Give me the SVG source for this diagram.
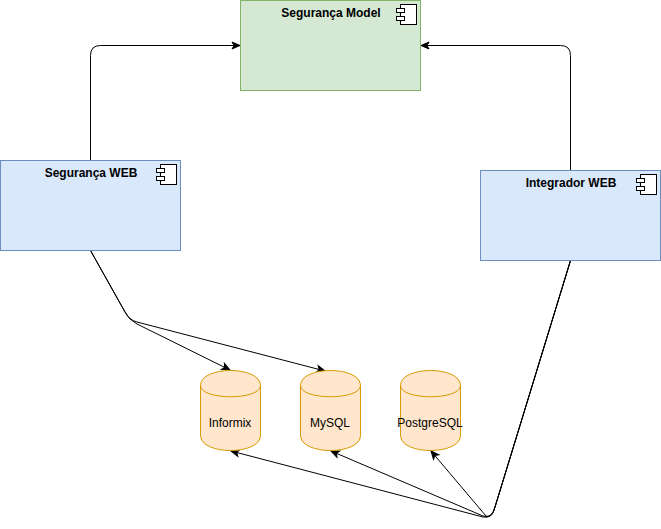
<svg xmlns="http://www.w3.org/2000/svg" width="661" height="529" viewBox="0 0 661 529">
<style>
text{font-family:"Liberation Sans",Arial,sans-serif;font-size:12px;fill:#000}
.t{font-weight:bold;text-anchor:middle}
.c{text-anchor:middle}
.blue{fill:#dae8fc;stroke:#6c8ebf}
.green{fill:#d5e8d4;stroke:#82b366}
.cyl{fill:#ffe6cc;stroke:#d79b00}
.ico{fill:#fff;stroke:#000}
.e{fill:none;stroke:#000;stroke-width:1}
</style>
<defs>
<marker id="a" markerUnits="userSpaceOnUse" markerWidth="12" markerHeight="10" refX="9" refY="4" orient="auto" overflow="visible"><path d="M1 0.500L9 4L1 7.500L3 4Z" fill="#000" stroke="#000"/></marker>
<g id="icon"><rect class="ico" x="4" y="0" width="16" height="20"/><rect class="ico" x="0" y="4" width="8" height="4"/><rect class="ico" x="0" y="12" width="8" height="4"/></g>
</defs>
<g id="edges">
<path class="e" marker-end="url(#a)" d="M90.500 160.500V55.500Q90.500 45.500 100.500 45.500H240"/>
<path class="e" marker-end="url(#a)" d="M570.500 170.500V55.500Q570.500 45.500 560.500 45.500H421"/>
<path class="e" marker-end="url(#a)" d="M90.500 250.500L125 312Q129 320 137 324L230 370"/>
<path class="e" marker-end="url(#a)" d="M90.500 250.500L125 312Q129 320 137 322L325 371"/>
<path class="e" marker-end="url(#a)" d="M570.500 260.500L495 507Q492 519 483 517L231 451"/>
<path class="e" marker-end="url(#a)" d="M570.500 260.500L495 507Q492 519 483 516L331 451"/>
<path class="e" marker-end="url(#a)" d="M570.500 260.500L495 507Q492 519 486 516L431 451"/>
</g>
<g id="seguranca-model"><rect class="green" x="240.500" y="0.500" width="180" height="90"/><text class="t" x="331" y="17">Segurança Model</text><use href="#icon" x="396.500" y="4.500"/></g>
<g id="seguranca-web"><rect class="blue" x="0.500" y="160.500" width="180" height="90"/><text class="t" x="91" y="177">Segurança WEB</text><use href="#icon" x="156.500" y="164.500"/></g>
<g id="integrador-web"><rect class="blue" x="480.500" y="170.500" width="180" height="90"/><text class="t" x="571" y="187">Integrador WEB</text><use href="#icon" x="636.500" y="174.500"/></g>
<g id="informix"><path class="cyl" d="M200.500 385.500C200.500 365.500 260.500 365.500 260.500 385.500V435.500C260.500 455.500 200.500 455.500 200.500 435.500Z"/><path class="cyl" style="fill:none" d="M200.500 385.500C200.500 400.500 260.500 400.500 260.500 385.500"/><text class="c" x="230" y="427">Informix</text></g>
<g id="mysql"><path class="cyl" d="M300.500 385.500C300.500 365.500 360.500 365.500 360.500 385.500V435.500C360.500 455.500 300.500 455.500 300.500 435.500Z"/><path class="cyl" style="fill:none" d="M300.500 385.500C300.500 400.500 360.500 400.500 360.500 385.500"/><text class="c" x="330" y="427">MySQL</text></g>
<g id="postgresql"><path class="cyl" d="M400.500 385.500C400.500 365.500 460.500 365.500 460.500 385.500V435.500C460.500 455.500 400.500 455.500 400.500 435.500Z"/><path class="cyl" style="fill:none" d="M400.500 385.500C400.500 400.500 460.500 400.500 460.500 385.500"/><text class="c" x="430" y="427">PostgreSQL</text></g>
</svg>
